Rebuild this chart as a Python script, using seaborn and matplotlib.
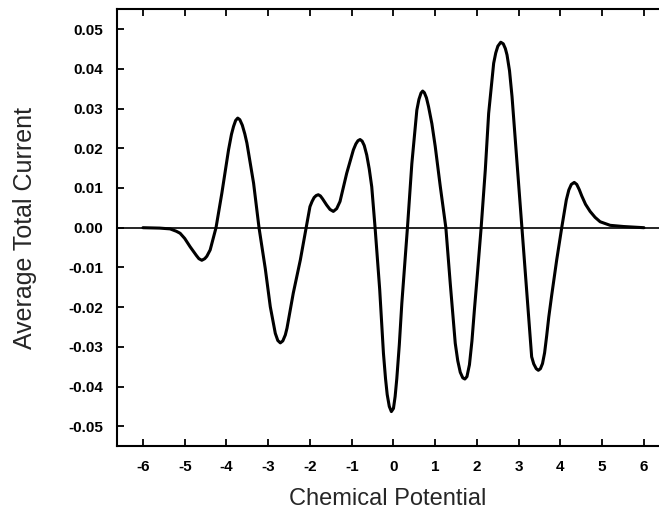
# Average total current vs chemical potential
import matplotlib
matplotlib.use("Agg")
import matplotlib.pyplot as plt
import seaborn as sns
import pandas as pd

# curve values
potential = [-6.0, -5.6, -5.35, -5.20, -5.11, -5.00, -4.87, -4.72, -4.66, -4.59,
             -4.52, -4.47, -4.39, -4.25, -4.11, -3.95, -3.88, -3.83, -3.78, -3.73,
             -3.68, -3.62, -3.56, -3.51, -3.35, -3.22, -3.07, -2.95, -2.83, -2.77,
             -2.71, -2.65, -2.59, -2.55, -2.40, -2.23, -2.09, -2.00, -1.95, -1.90,
             -1.85, -1.80, -1.75, -1.70, -1.60, -1.52, -1.44, -1.36, -1.28, -1.12,
             -0.96, -0.90, -0.85, -0.80, -0.75, -0.70, -0.64, -0.58, -0.52, -0.44,
             -0.33, -0.24, -0.19, -0.15, -0.10, -0.05, 0.00, 0.04, 0.08, 0.14,
             0.20, 0.335, 0.44, 0.56, 0.61, 0.66, 0.70, 0.74, 0.79, 0.84,
             0.92, 1.00, 1.12, 1.255, 1.36, 1.48, 1.54, 1.60, 1.66, 1.71,
             1.76, 1.82, 1.88, 1.94, 2.00, 2.10, 2.20, 2.28, 2.40, 2.45,
             2.50, 2.57, 2.63, 2.68, 2.72, 2.78, 2.84, 2.96, 3.075, 3.20,
             3.31, 3.36, 3.42, 3.47, 3.52, 3.57, 3.62, 3.67, 3.72, 3.79,
             3.91, 4.03, 4.14, 4.20, 4.26, 4.33, 4.39, 4.45, 4.51, 4.60,
             4.71, 4.83, 4.95, 5.19, 5.51, 6.0]
current = [0.0, -0.0001, -0.0003, -0.0009, -0.0014, -0.0027, -0.0048, -0.0070, -0.0078, -0.0082,
           -0.0078, -0.0072, -0.0056, 0.0, 0.0087, 0.0196, 0.0235, 0.0255, 0.0270, 0.0276,
           0.0272, 0.0258, 0.0236, 0.0213, 0.0112, 0.0, -0.0103, -0.0199, -0.0266, -0.0284,
           -0.0290, -0.0285, -0.0270, -0.0253, -0.0165, -0.0081, 0.0, 0.0053, 0.0066, 0.0076,
           0.0081, 0.0083, 0.0080, 0.0073, 0.0057, 0.0046, 0.0041, 0.0048, 0.0066, 0.0137,
           0.0196, 0.0211, 0.0219, 0.0222, 0.0218, 0.0207, 0.0183, 0.0148, 0.0103, 0.0,
           -0.0155, -0.0316, -0.0380, -0.0420, -0.0450, -0.0463, -0.0455, -0.0425, -0.0380, -0.0295,
           -0.0191, 0.0, 0.0161, 0.0296, 0.0323, 0.0339, 0.0344, 0.0340, 0.0327, 0.0305,
           0.0262, 0.0205, 0.0105, 0.0, -0.0140, -0.0291, -0.0335, -0.0364, -0.0378, -0.0381,
           -0.0375, -0.0345, -0.0285, -0.0205, -0.0130, 0.0, 0.0146, 0.0288, 0.0414, 0.0440,
           0.0457, 0.0467, 0.0463, 0.0451, 0.0435, 0.0395, 0.0330, 0.0162, 0.0, -0.0174,
           -0.0325, -0.0343, -0.0355, -0.0359, -0.0355, -0.0342, -0.0315, -0.0272, -0.0225, -0.0170,
           -0.0081, 0.0, 0.0070, 0.0095, 0.0109, 0.0114, 0.0109, 0.0096, 0.0080, 0.0059,
           0.0041, 0.0026, 0.0015, 0.0006, 0.0003, 0.0]

x_ticks = [-6, -5, -4, -3, -2, -1, 0, 1, 2, 3, 4, 5, 6]
y_ticks = [0.05, 0.04, 0.03, 0.02, 0.01, 0.0, -0.01, -0.02, -0.03, -0.04, -0.05]

df = pd.DataFrame({"potential": potential, "current": current})

sns.set_style("ticks")
plt.rcParams["font.family"] = ["Liberation Sans", "DejaVu Sans"]

fig = plt.figure(figsize=(6.59, 5.14), dpi=100)
ax = fig.add_axes([0.177, 0.132, 0.823, 0.85])

ax.axhline(0, color="black", linewidth=1.2, zorder=1)
sns.lineplot(data=df, x="potential", y="current", color="black",
             linewidth=2.2, ax=ax, zorder=2)

ax.set_xlim(-6.63, 6.36)
ax.set_ylim(-0.055, 0.055)
ax.set_xticks(x_ticks)
ax.set_yticks(y_ticks)
ax.set_xticklabels([str(t) for t in x_ticks])
ax.set_yticklabels([f"{t:.2f}" for t in y_ticks])

ax.tick_params(axis="both", direction="in", length=5, width=1.3,
               labelsize=11, colors="black")
ax.tick_params(axis="y", pad=10)
ax.tick_params(axis="x", top=True, pad=10)
for lab in ax.get_xticklabels() + ax.get_yticklabels():
    lab.set_fontweight("bold")

for side in ["left", "bottom", "top"]:
    ax.spines[side].set_linewidth(1.5)
    ax.spines[side].set_color("black")
ax.spines["right"].set_visible(False)

ax.set_xlabel("Chemical Potential", fontsize=17, labelpad=10)
ax.set_ylabel("Average Total Current", fontsize=18, labelpad=22)

fig.savefig("out.png", dpi=100)
